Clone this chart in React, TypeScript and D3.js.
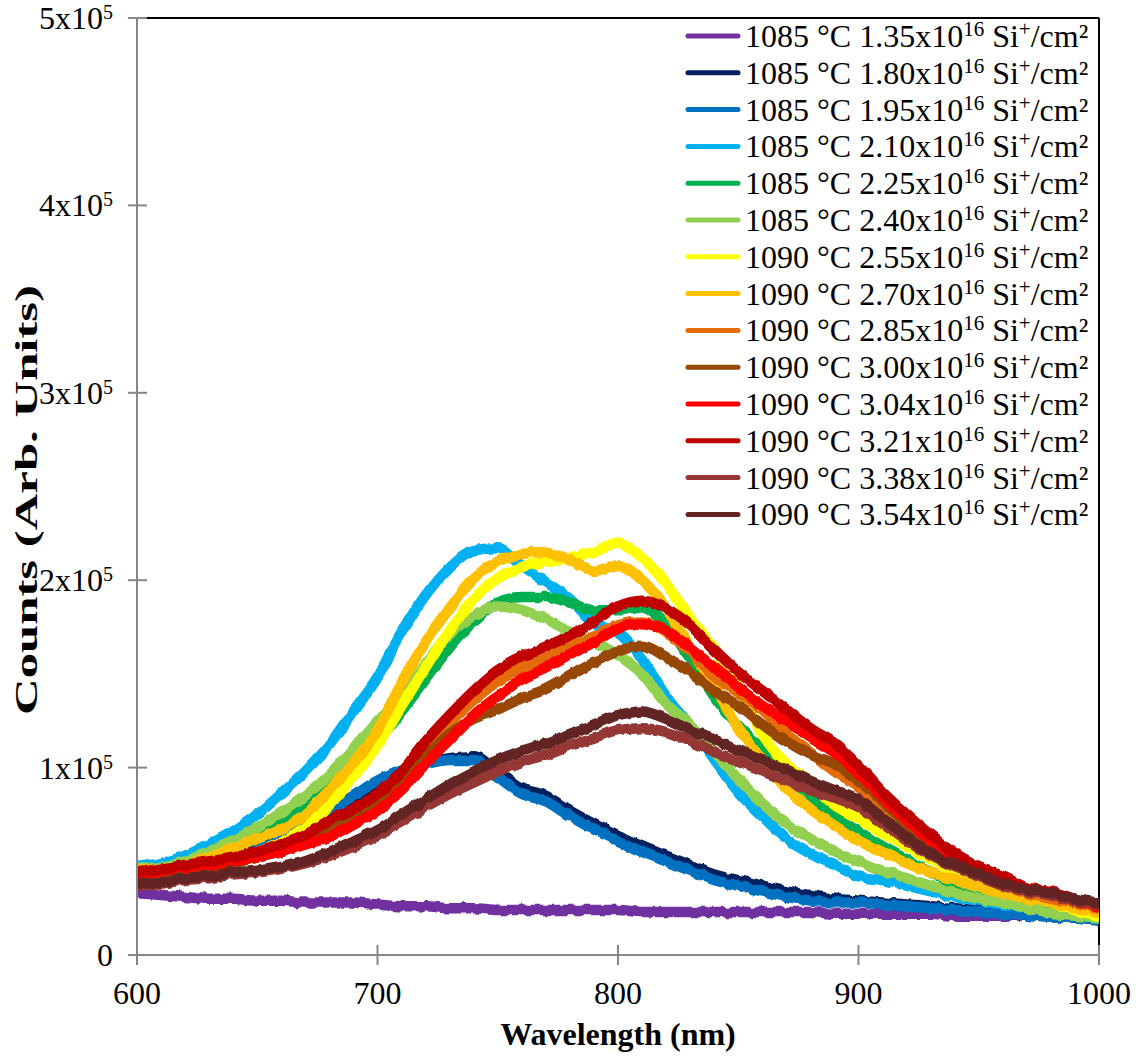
import React, { useEffect } from 'react';
import * as d3 from 'd3';

// wavelength grid (nm) read every 10 nm off the picture
const wavelengths = [
  600, 610, 620, 630, 640, 650, 660, 670, 680, 690, 700, 710, 720, 730, 740, 750, 760, 770, 780, 790, 800,
  810, 820, 830, 840, 850, 860, 870, 880, 890, 900, 910, 920, 930, 940, 950, 960, 970, 980, 990, 1000,
];

// counts in units of 1e5
const s135 = [0.33, 0.32, 0.31, 0.30, 0.30, 0.29, 0.29, 0.28, 0.28, 0.28, 0.27, 0.26, 0.26, 0.25, 0.25, 0.24, 0.24, 0.24, 0.24, 0.24, 0.24, 0.23, 0.23, 0.23, 0.23, 0.23, 0.23, 0.23, 0.23, 0.22, 0.22, 0.22, 0.22, 0.22, 0.21, 0.21, 0.21, 0.21, 0.20, 0.20, 0.20];
const s180 = [0.44, 0.45, 0.47, 0.50, 0.54, 0.58, 0.62, 0.67, 0.75, 0.83, 0.91, 0.98, 1.02, 1.05, 1.06, 0.98, 0.89, 0.85, 0.77, 0.70, 0.64, 0.58, 0.53, 0.48, 0.43, 0.40, 0.37, 0.34, 0.32, 0.30, 0.29, 0.28, 0.27, 0.26, 0.25, 0.24, 0.23, 0.22, 0.21, 0.20, 0.19];
const s195 = [0.44, 0.45, 0.47, 0.50, 0.54, 0.58, 0.63, 0.69, 0.77, 0.85, 0.93, 0.99, 1.02, 1.04, 1.04, 0.95, 0.86, 0.82, 0.74, 0.67, 0.61, 0.55, 0.50, 0.45, 0.40, 0.37, 0.34, 0.31, 0.29, 0.28, 0.28, 0.27, 0.26, 0.25, 0.24, 0.23, 0.22, 0.21, 0.20, 0.20, 0.19];
const s210 = [0.47, 0.49, 0.53, 0.59, 0.66, 0.75, 0.86, 0.98, 1.12, 1.30, 1.48, 1.72, 1.92, 2.07, 2.16, 2.17, 2.08, 1.99, 1.90, 1.77, 1.72, 1.58, 1.38, 1.22, 1.04, 0.87, 0.74, 0.62, 0.54, 0.48, 0.42, 0.40, 0.37, 0.34, 0.31, 0.29, 0.27, 0.25, 0.23, 0.21, 0.20];
const s225 = [0.45, 0.46, 0.48, 0.52, 0.57, 0.63, 0.70, 0.79, 0.89, 1.01, 1.14, 1.30, 1.47, 1.64, 1.78, 1.88, 1.91, 1.91, 1.88, 1.84, 1.84, 1.86, 1.76, 1.58, 1.38, 1.22, 1.10, 0.98, 0.84, 0.74, 0.66, 0.58, 0.51, 0.44, 0.38, 0.33, 0.29, 0.26, 0.23, 0.21, 0.20];
const s240 = [0.46, 0.47, 0.50, 0.55, 0.61, 0.68, 0.76, 0.85, 0.96, 1.10, 1.25, 1.38, 1.55, 1.71, 1.81, 1.86, 1.84, 1.79, 1.72, 1.67, 1.60, 1.50, 1.34, 1.23, 1.08, 0.94, 0.81, 0.70, 0.62, 0.55, 0.50, 0.45, 0.41, 0.37, 0.33, 0.30, 0.28, 0.25, 0.22, 0.21, 0.20];
const s255 = [0.44, 0.45, 0.46, 0.48, 0.51, 0.55, 0.60, 0.68, 0.80, 0.95, 1.12, 1.33, 1.53, 1.73, 1.90, 2.01, 2.07, 2.10, 2.12, 2.15, 2.20, 2.12, 1.98, 1.80, 1.64, 1.43, 1.18, 1.02, 0.92, 0.80, 0.73, 0.65, 0.58, 0.51, 0.45, 0.40, 0.35, 0.31, 0.28, 0.24, 0.21];
const s270 = [0.45, 0.46, 0.48, 0.52, 0.57, 0.62, 0.67, 0.75, 0.88, 1.02, 1.20, 1.45, 1.67, 1.85, 2.01, 2.10, 2.14, 2.15, 2.11, 2.05, 2.08, 2.00, 1.85, 1.64, 1.44, 1.21, 1.04, 0.89, 0.78, 0.69, 0.61, 0.55, 0.49, 0.44, 0.40, 0.36, 0.33, 0.30, 0.28, 0.25, 0.23];
const s285 = [0.43, 0.44, 0.46, 0.48, 0.50, 0.53, 0.57, 0.62, 0.69, 0.76, 0.84, 0.96, 1.10, 1.24, 1.36, 1.46, 1.53, 1.58, 1.64, 1.70, 1.76, 1.78, 1.72, 1.62, 1.49, 1.40, 1.31, 1.18, 1.08, 0.98, 0.90, 0.78, 0.66, 0.56, 0.48, 0.42, 0.37, 0.33, 0.30, 0.28, 0.25];
const s300 = [0.42, 0.44, 0.45, 0.47, 0.49, 0.52, 0.55, 0.60, 0.66, 0.74, 0.82, 0.94, 1.06, 1.18, 1.26, 1.31, 1.37, 1.42, 1.49, 1.56, 1.62, 1.65, 1.59, 1.51, 1.41, 1.33, 1.23, 1.14, 1.07, 1.02, 0.93, 0.82, 0.70, 0.60, 0.52, 0.45, 0.40, 0.35, 0.32, 0.29, 0.26];
const s304 = [0.43, 0.45, 0.47, 0.48, 0.50, 0.52, 0.55, 0.59, 0.63, 0.70, 0.77, 0.88, 1.02, 1.15, 1.28, 1.38, 1.47, 1.53, 1.60, 1.67, 1.74, 1.77, 1.73, 1.64, 1.54, 1.43, 1.33, 1.25, 1.16, 1.08, 0.97, 0.84, 0.72, 0.61, 0.52, 0.45, 0.40, 0.35, 0.32, 0.29, 0.26];
const s321 = [0.44, 0.46, 0.48, 0.50, 0.52, 0.55, 0.59, 0.64, 0.72, 0.78, 0.86, 0.98, 1.14, 1.28, 1.41, 1.52, 1.59, 1.64, 1.70, 1.78, 1.86, 1.89, 1.85, 1.76, 1.63, 1.51, 1.41, 1.31, 1.21, 1.13, 1.01, 0.87, 0.75, 0.64, 0.54, 0.47, 0.42, 0.36, 0.34, 0.30, 0.27];
const s338 = [0.37, 0.38, 0.40, 0.41, 0.43, 0.44, 0.46, 0.49, 0.53, 0.58, 0.64, 0.71, 0.79, 0.86, 0.92, 0.98, 1.03, 1.07, 1.12, 1.16, 1.20, 1.21, 1.19, 1.14, 1.08, 1.03, 0.98, 0.93, 0.88, 0.84, 0.79, 0.70, 0.61, 0.53, 0.47, 0.42, 0.37, 0.34, 0.32, 0.29, 0.27];
const s354 = [0.38, 0.39, 0.41, 0.42, 0.44, 0.45, 0.47, 0.50, 0.55, 0.61, 0.67, 0.75, 0.83, 0.91, 0.98, 1.04, 1.09, 1.13, 1.18, 1.23, 1.28, 1.30, 1.26, 1.20, 1.15, 1.09, 1.04, 0.99, 0.93, 0.88, 0.83, 0.73, 0.63, 0.54, 0.48, 0.43, 0.38, 0.35, 0.33, 0.30, 0.28];

const temps = ['1085', '1085', '1085', '1085', '1085', '1085', '1090', '1090', '1090', '1090', '1090', '1090', '1090', '1090'];
const doses = ['1.35', '1.80', '1.95', '2.10', '2.25', '2.40', '2.55', '2.70', '2.85', '3.00', '3.04', '3.21', '3.38', '3.54'];
const colors = ['#7030A0', '#002060', '#0070C0', '#00B0F0', '#00B050', '#92D050', '#FFFF00', '#FFC000', '#E46C0A', '#974706', '#FF0000', '#C00000', '#953735', '#632523'];
const seriesValues = [s135, s180, s195, s210, s225, s240, s255, s270, s285, s300, s304, s321, s338, s354];

const xTicks = [600, 700, 800, 900, 1000];
const yTicks = [0, 1, 2, 3, 4, 5];

const FONT = 'Liberation Serif, Times New Roman, serif';
const AXIS = '#868686';

export default function App() {
  useEffect(() => {
    document.body.style.margin = '0';
  }, []);

  const W = 1142;
  const H = 1057;
  const left = 137, right = 1099, top = 18, bottom = 955;

  const x = d3.scaleLinear().domain([600, 1000]).range([left, right]);
  const y = d3.scaleLinear().domain([0, 5e5]).range([bottom, top]);

  const line = d3
    .line<number>()
    .x((_, i) => x(wavelengths[i]))
    .y((d) => y(d * 1e5))
    .curve(d3.curveMonotoneX);

  return (
    <svg width={W} height={H} style={{ display: 'block', background: '#fff' }}>
      <defs>
        <clipPath id="plotClip">
          <rect x={left} y={top} width={right - left} height={bottom - top} />
        </clipPath>
        {/* vertical-only wobble so the thick traces read like noisy spectra */}
        <filter id="jitter" x={left - 10} y={top - 10} width={right - left + 20} height={bottom - top + 20}
          filterUnits="userSpaceOnUse" colorInterpolationFilters="sRGB">
          <feTurbulence type="fractalNoise" baseFrequency="0.12 0.01" numOctaves={2} seed={7} result="n" />
          <feColorMatrix in="n" type="matrix"
            values="0 0 0 0 0.5  0 1 0 0 0  0 0 0 0 0  0 0 0 0 1" result="m" />
          <feDisplacementMap in="SourceGraphic" in2="m" scale={6} xChannelSelector="R" yChannelSelector="G" />
        </filter>
      </defs>

      {/* plot frame: black top/right, grey axes */}
      <line x1={left} x2={right} y1={top} y2={top} stroke="#000" strokeWidth={2} />
      <line x1={right} x2={right} y1={top} y2={bottom} stroke="#000" strokeWidth={2} />

      <g clipPath="url(#plotClip)">
        <g filter="url(#jitter)">
          {seriesValues.map((vals, i) => (
            <path key={doses[i]} d={line(vals) ?? ''} fill="none" stroke={colors[i]} strokeWidth={10.5}
              strokeLinejoin="round" strokeLinecap="round" />
          ))}
        </g>
      </g>

      <line x1={left} x2={left} y1={top} y2={bottom} stroke={AXIS} strokeWidth={2} />
      <line x1={left} x2={right} y1={bottom} y2={bottom} stroke={AXIS} strokeWidth={2} />

      {yTicks.map((t) => (
        <g key={'y' + t}>
          <line x1={left - 9} x2={left + 10} y1={y(t * 1e5)} y2={y(t * 1e5)} stroke={AXIS} strokeWidth={2} />
          <text x={113} y={y(t * 1e5) + 11} textAnchor="end" fontSize={32} fill="#000" fontFamily={FONT}>
            {t === 0 ? (
              '0'
            ) : (
              <>
                {t}x10
                <tspan dy={-10} fontSize={20}>5</tspan>
              </>
            )}
          </text>
        </g>
      ))}

      {xTicks.map((t) => (
        <g key={'x' + t}>
          <line x1={x(t)} x2={x(t)} y1={bottom - 10} y2={bottom + 10} stroke={AXIS} strokeWidth={2} />
          <text x={x(t)} y={1004} textAnchor="middle" fontSize={32} fill="#000" fontFamily={FONT}>{t}</text>
        </g>
      ))}

      <text x={(left + right) / 2} y={1045} textAnchor="middle" fontSize={32} fontWeight="bold" fill="#000" fontFamily={FONT}>
        Wavelength (nm)
      </text>
      <text
        transform={`translate(37, ${500}) rotate(-90)`}
        textAnchor="middle"
        fontSize={32}
        fontWeight="bold"
        fill="#000"
        fontFamily={FONT}
        textLength={430}
        lengthAdjust="spacingAndGlyphs"
      >
        Counts (Arb. Units)
      </text>

      {/* legend */}
      {doses.map((d, i) => {
        const cy = 36 + i * 36.8;
        return (
          <g key={'lg' + d}>
            <line x1={688} x2={738} y1={cy} y2={cy} stroke={colors[i]} strokeWidth={5} strokeLinecap="round" />
            <text x={745} y={cy + 11} fontSize={32} fill="#000" fontFamily={FONT}>
              {temps[i]} °C {d}x10
              <tspan dy={-11} fontSize={21}>16</tspan>
              <tspan dy={11}> Si</tspan>
              <tspan dy={-11} fontSize={21}>+</tspan>
              <tspan dy={11}>/cm²</tspan>
            </text>
          </g>
        );
      })}
    </svg>
  );
}
